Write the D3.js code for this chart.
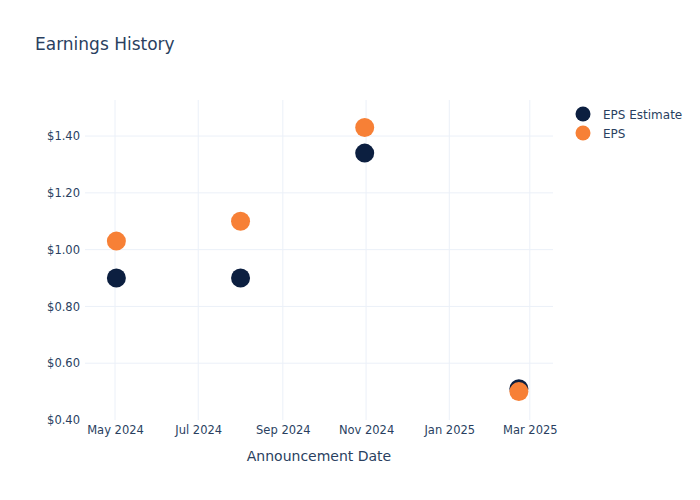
<!DOCTYPE html>
<html>
<head>
<meta charset="utf-8">
<script src="https://cdn.jsdelivr.net/npm/d3@7"></script>
<style>
  body { margin: 0; background: #fff; }
  text { font-family: "DejaVu Sans", sans-serif; fill: #2a3f5f; }
</style>
</head>
<body>
<div id="chart"></div>
<script>
// data
const dates = ["2024-05-02", "2024-08-01", "2024-10-31", "2025-02-21"];
const estimate = [0.90, 0.90, 1.34, 0.51];
const eps = [1.03, 1.10, 1.43, 0.50];
const seriesNames = ["EPS Estimate", "EPS"];
const seriesColors = ["#0c1f40", "#f78036"];
const xTicks = ["2024-05-01", "2024-07-01", "2024-09-01", "2024-11-01", "2025-01-01", "2025-03-01"];
const yTicks = [0.4, 0.6, 0.8, 1.0, 1.2, 1.4];

const w = 700;
const h = 500;
const padLeft = 85, padRight = 553, padTop = 100, padBottom = 420;
const parse = d3.utcParse("%Y-%m-%d");

const svg = d3.select("#chart").append("svg")
  .attr("width", w)
  .attr("height", h);

const xScale = d3.scaleUtc()
  .domain([parse("2024-04-09"), parse("2025-03-18")])
  .range([padLeft, padRight]);

const yScale = d3.scaleLinear()
  .domain([0.4, 1.527])
  .range([padBottom, padTop]);

// grid lines
svg.append("g")
  .selectAll("line")
  .data(xTicks)
  .enter()
  .append("line")
  .attr("x1", d => xScale(parse(d)))
  .attr("x2", d => xScale(parse(d)))
  .attr("y1", padTop)
  .attr("y2", padBottom)
  .attr("stroke", "#ebf0f8");

svg.append("g")
  .selectAll("line")
  .data(yTicks.slice(1))
  .enter()
  .append("line")
  .attr("x1", padLeft)
  .attr("x2", padRight)
  .attr("y1", d => yScale(d))
  .attr("y2", d => yScale(d))
  .attr("stroke", "#ebf0f8");

// axes, no domain line or tick marks
const xAxis = d3.axisBottom(xScale)
  .tickValues(xTicks.map(parse))
  .tickFormat(d3.utcFormat("%b %Y"))
  .tickSize(0)
  .tickPadding(6);

const yAxis = d3.axisLeft(yScale)
  .tickValues(yTicks)
  .tickFormat(d => "$" + d3.format(".2f")(d))
  .tickSize(0)
  .tickPadding(5);

svg.append("g")
  .attr("transform", "translate(0," + padBottom + ")")
  .call(xAxis)
  .call(g => g.select(".domain").remove())
  .selectAll("text")
  .attr("font-size", 11.5)
  .attr("font-family", "DejaVu Sans, sans-serif")
  .style("fill", "#2a3f5f");

svg.append("g")
  .attr("transform", "translate(" + padLeft + ",0)")
  .call(yAxis)
  .call(g => g.select(".domain").remove())
  .selectAll("text")
  .attr("font-size", 11.5)
  .attr("font-family", "DejaVu Sans, sans-serif")
  .style("fill", "#2a3f5f");

// titles
svg.append("text")
  .attr("x", 35)
  .attr("y", 50)
  .attr("font-size", 17)
  .text("Earnings History");

svg.append("text")
  .attr("x", (padLeft + padRight) / 2)
  .attr("y", 461)
  .attr("text-anchor", "middle")
  .attr("font-size", 14)
  .text("Announcement Date");

// points: estimate first, eps on top
[estimate, eps].forEach((vals, k) => {
  svg.append("g")
    .selectAll("circle")
    .data(vals)
    .enter()
    .append("circle")
    .attr("cx", (d, i) => xScale(parse(dates[i])))
    .attr("cy", d => yScale(d))
    .attr("r", 9.5)
    .attr("fill", seriesColors[k]);
});

// legend
const legend = svg.append("g")
  .selectAll("g")
  .data(seriesNames)
  .enter()
  .append("g")
  .attr("transform", (d, i) => "translate(583," + (114 + i * 19) + ")");

legend.append("circle")
  .attr("r", 7.5)
  .attr("fill", (d, i) => seriesColors[i]);

legend.append("text")
  .attr("x", 20)
  .attr("y", 4.5)
  .attr("font-size", 12)
  .text(d => d);
</script>
</body>
</html>
